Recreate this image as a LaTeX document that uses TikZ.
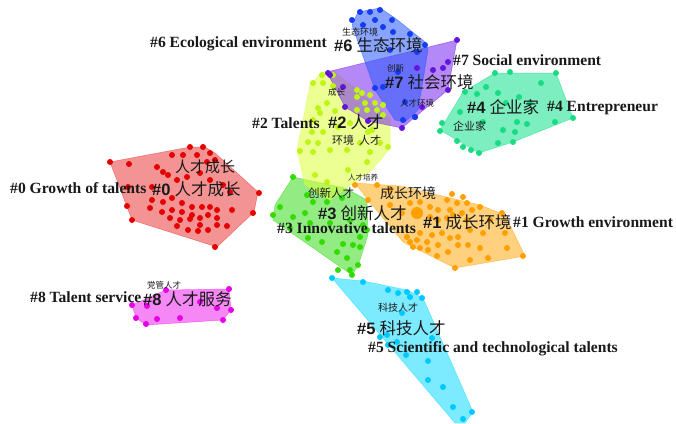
\documentclass[tikz,border=0pt]{standalone}
\usepackage{fontspec}
\setmainfont{Liberation Serif}
\newfontfamily\cjk{Noto Sans CJK SC}
\newfontfamily\hsans{Liberation Sans}
\definecolor{cRed}{RGB}{235,60,60}
\definecolor{dRed}{RGB}{228,0,0}
\definecolor{cYel}{RGB}{220,255,60}
\definecolor{dYel}{RGB}{190,245,20}
\definecolor{cPur}{RGB}{120,40,240}
\definecolor{dPur}{RGB}{100,20,220}
\definecolor{cBlu}{RGB}{40,90,255}
\definecolor{dBlu}{RGB}{20,60,240}
\definecolor{cTea}{RGB}{20,225,140}
\definecolor{dTea}{RGB}{25,220,130}
\definecolor{cOra}{RGB}{255,170,20}
\definecolor{dOra}{RGB}{255,160,0}
\definecolor{cGre}{RGB}{60,220,30}
\definecolor{dGre}{RGB}{50,220,0}
\definecolor{cCya}{RGB}{20,220,255}
\definecolor{dCya}{RGB}{0,200,255}
\definecolor{cMag}{RGB}{240,40,240}
\definecolor{dMag}{RGB}{230,0,230}
\definecolor{txt}{RGB}{25,25,25}
\tikzset{
  hull/.style={fill=#1, fill opacity=0.55, draw=#1, draw opacity=0.6, line width=0.5pt, line join=round},
  en/.style={anchor=west, inner sep=0pt, text=txt, font=\fontsize{15.6}{15.6}\selectfont\bfseries},
  cn/.style={anchor=west, inner sep=0pt, text=txt, font=\fontsize{16.5}{16.5}\selectfont},
  kw/.style={anchor=west, inner sep=0pt, text=txt, font=\fontsize{#1}{#1}\selectfont\cjk},
}
\newcommand{\hn}[1]{{\hsans\bfseries\##1}}
\begin{document}
\begin{tikzpicture}[x=1pt,y=-1pt]
\useasboundingbox (0,0) rectangle (676,423);
\fill[white] (0,0) rectangle (676,423);
% hulls
\path[hull=cRed] (110,162)--(190,147)--(205,147)--(215,153)--(258,192)--(254,212)--(217,247)--(132,220)--cycle;
\path[hull=cCya] (332,278)--(363,281)--(407,290)--(423,298)--(473,412)--(465,423)--(455,423)--cycle;
\path[hull=cGre] (293,177)--(345,188)--(367,200)--(368,235)--(358,266)--(352,275)--(273,220)--(275,205)--cycle;
\path[hull=cOra] (355,183)--(400,186)--(480,205)--(505,215)--(525,256)--(455,268)--(403,242)--(368,200)--cycle;
\path[hull=cYel] (322,72)--(335,72)--(390,118)--(390,148)--(372,170)--(330,200)--(305,185)--(297,150)--(310,85)--cycle;
\path[hull=cTea] (495,73)--(556,73)--(573,118)--(513,142)--(479,153)--(440,130)--(463,92)--cycle;
\path[hull=cPur] (327,72)--(457,40)--(448,90)--(415,117)--(402,128)--(368,121)--(345,107)--cycle;
\path[hull=cBlu] (358,12)--(380,8)--(395,18)--(425,42)--(428,50)--(418,110)--(405,122)--(395,120)--(375,90)--(352,25)--cycle;
\path[hull=cMag] (132,305)--(166,290)--(229,289)--(231,310)--(223,320)--(146,325)--(136,318)--cycle;
% dots
\foreach \p in {(110,162),(129,164),(157,167),(163,172),(168,175),(172,155),(183,155),(190,147),(203,147),(197,155),(210,153),(215,160),(207,162),(177,180),(187,177),(200,173),(210,180),(223,185),(152,187),(128,187),(163,202),(172,198),(182,203),(192,207),(202,207),(210,207),(217,210),(232,210),(259,193),(253,213),(127,206),(150,208),(162,212),(172,210),(182,212),(192,215),(170,218),(180,220),(190,219),(200,218),(208,215),(217,218),(132,220),(177,226),(188,230),(198,231),(208,230),(217,225),(227,226),(215,247),(200,225),(152,200),(230,192)}
  \fill[dRed] \p circle (3);
\foreach \p in {(332,278),(363,282),(388,290),(398,293),(407,292),(410,297),(417,292),(422,298),(402,313),(387,335),(380,337),(397,342),(388,345),(406,355),(428,361),(432,338),(428,380),(443,387),(453,407),(472,412),(463,419)}
  \fill[dCya] \p circle (3);
\foreach \p in {(293,177),(307,195),(313,202),(327,202),(342,198),(280,207),(293,217),(305,213),(273,215),(310,223),(330,223),(350,220),(360,237),(353,245),(360,247),(343,244),(308,238),(322,242),(337,252),(347,258),(358,265),(350,270),(338,270),(352,275),(290,228),(367,230),(363,225)}
  \fill[dGre] \p circle (3);
\foreach \p in {(377,185),(355,185),(368,200),(390,190),(452,194),(463,197),(447,200),(457,203),(467,203),(410,203),(420,202),(430,207),(438,210),(450,210),(462,213),(472,210),(480,207),(502,213),(390,205),(402,213),(430,217),(438,220),(447,218),(453,215),(467,220),(483,233),(470,230),(505,233),(490,220),(420,233),(432,235),(442,233),(450,238),(458,237),(407,237),(410,242),(417,240),(427,242),(438,245),(448,252),(428,250),(420,248),(468,245),(458,245),(480,248),(507,248),(470,260),(488,258),(523,256),(455,268),(437,256),(413,247)}
  \fill[dOra] \p circle (3);
\fill[dOra] (417,213) circle (6);
\foreach \p in {(322,75),(333,75),(313,83),(323,83),(333,86),(357,90),(362,93),(370,95),(357,97),(365,103),(375,103),(383,105),(357,110),(367,110),(377,110),(383,115),(318,108),(327,103),(320,113),(335,111),(313,120),(338,127),(350,123),(312,132),(323,132),(368,132),(372,130),(308,142),(318,143),(360,143),(380,143),(388,147),(300,151),(313,152),(330,150),(347,150),(370,152),(367,162),(315,175),(327,182),(348,170)}
  \fill[dYel] \p circle (3);
\foreach \p in {(495,73),(510,72),(556,73),(541,83),(486,87),(465,92),(477,94),(498,93),(519,97),(506,103),(530,103),(573,118),(555,122),(527,124),(517,122),(503,130),(515,132),(460,112),(442,123),(440,131),(457,141),(463,147),(471,150),(479,153),(498,143),(513,142),(483,122)}
  \fill[dTea] \p circle (3);
\foreach \p in {(328,73),(343,87),(345,107),(368,121),(402,128),(457,40),(448,62),(443,68),(433,70),(417,68),(448,90),(422,107),(415,117),(330,75)}
  \fill[dPur] \p circle (3);
\foreach \p in {(360,12),(370,12),(380,10),(352,20),(363,25),(375,20),(392,20),(393,32),(410,34),(425,45),(417,52),(390,50),(398,72),(375,88),(383,87),(405,102),(403,120),(415,117),(383,27)}
  \fill[dBlu] \p circle (3);
\foreach \p in {(132,305),(147,306),(166,290),(200,302),(217,308),(229,289),(231,310),(223,320),(180,318),(157,319),(146,324),(136,318)}
  \fill[dMag] \p circle (3);
% labels
\node[en] (l0en) at (10,188) {\#0 Growth of talents};
\node[cn] (l0cn) at (152,189) {\hn{0} \cjk 人才成长};
\node[kw=15] (l0kw) at (175,167) {人才成长};
\node[en] (l2en) at (252,123) {\#2 Talents};
\node[cn] (l2cn) at (328,122) {\hn{2} \cjk 人才};
\node[kw=11] (l2kw1) at (332,140) {环境\ \ 人才};
\node[kw=8.5] (l2kw2) at (328,92) {成长};
\node[en] (l6en) at (150,44) {\#6 Ecological environment};
\node[cn] (l6cn) at (334,45) {\hn{6} \cjk 生态环境};
\node[kw=9] (l6kw) at (342,32) {生态环境};
\node[en] (l7en) at (453,60) {\#7 Social environment};
\node[cn] (l7cn) at (385,82) {\hn{7} \cjk 社会环境};
\node[kw=8.5] (l7kw1) at (387,68) {创新};
\node[kw=8.5] (l7kw2) at (400,103) {人才环境};
\node[cn] (l4cn) at (467,107) {\hn{4} \cjk 企业家};
\node[en] (l4en) at (547,108) {\#4 Entrepreneur};
\node[kw=11] (l4kw) at (453,126) {企业家};
\node[kw=7.5] (l1kw1) at (348,178) {人才培养};
\node[kw=11.5] (l3kw) at (308,193) {创新人才};
\node[kw=14] (l1kw2) at (380,193) {成长环境};
\node[cn] (l3cn) at (318,213) {\hn{3} \cjk 创新人才};
\node[en] (l3en) at (277,228) {\#3 Innovative talents};
\node[cn] (l1cn) at (423,222) {\hn{1} \cjk 成长环境};
\node[en] (l1en) at (513,222) {\#1 Growth environment};
\node[en] (l8en) at (30,297) {\#8 Talent service};
\node[cn] (l8cn) at (143,299) {\hn{8} \cjk 人才服务};
\node[kw=8.5] (l8kw) at (147,285) {党管人才};
\node[kw=10] (l5kw) at (378,308) {科技人才};
\node[cn] (l5cn) at (357,328) {\hn{5} \cjk 科技人才};
\node[en] (l5en) at (368,349) {\#5 Scientific and technological talents};
\end{tikzpicture}
\end{document}
